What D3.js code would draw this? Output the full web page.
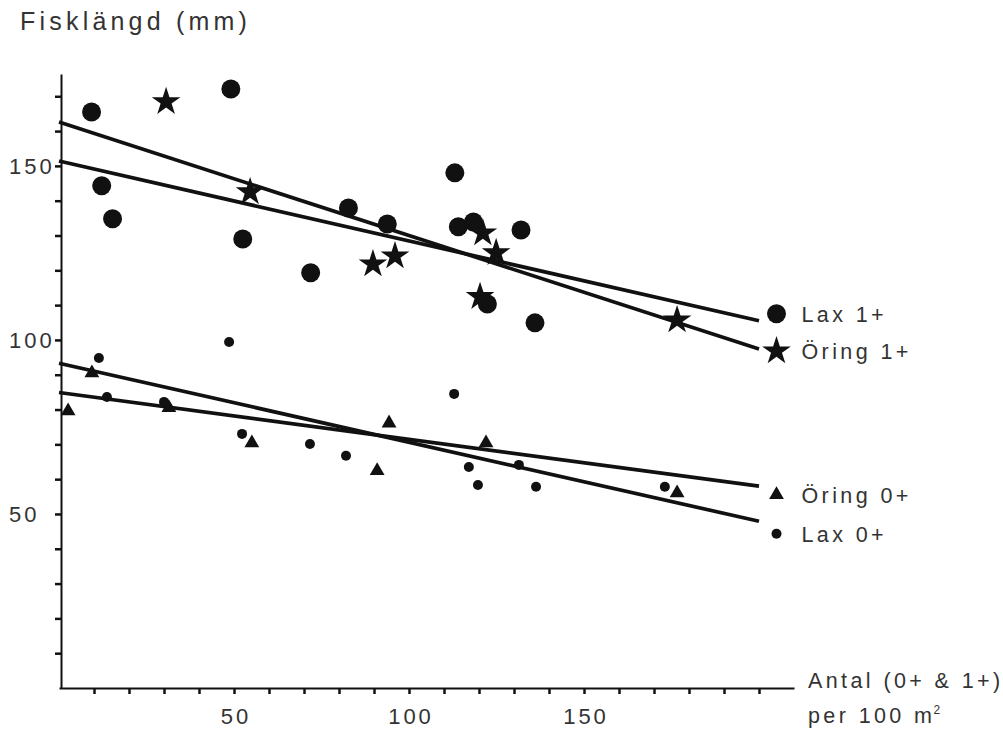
<!DOCTYPE html>
<html>
<head>
<meta charset="utf-8">
<script src="https://cdn.jsdelivr.net/npm/d3@7"></script>
<style>
  body { margin: 0; background: #fff; }
  text { font-family: "Liberation Sans", Arial, sans-serif; fill: #333; }
</style>
</head>
<body>
<div id="chart"></div>
<script>
// chart size
var width = 1003,
    height = 729

// values: x = antal per 100 m2, y = fisklängd (mm)
var lax1X = [9.3, 12.2, 15.3, 49.1, 52.5, 71.9, 82.7, 93.8, 113.1, 114.1, 118.4, 122.4, 132.0, 136.0]
var lax1Y = [165.5, 144.3, 134.8, 172.1, 129.0, 119.3, 137.9, 133.3, 148.0, 132.5, 133.9, 110.3, 131.6, 104.9]

var oring1X = [30.6, 54.6, 89.7, 96.0, 121.1, 124.9, 120.3, 176.6]
var oring1Y = [168.4, 142.5, 121.8, 124.1, 130.7, 125.0, 112.4, 105.7]

var oring0X = [2.6, 9.4, 31.4, 55.1, 90.9, 94.3, 122.0, 176.6]
var oring0Y = [79.6, 90.5, 80.5, 70.4, 62.4, 76.1, 70.4, 56.0]

var lax0X = [11.4, 13.7, 30.0, 48.6, 52.3, 71.7, 82.0, 112.9, 117.1, 119.7, 131.4, 136.3, 173.1]
var lax0Y = [94.8, 83.6, 82.2, 99.4, 73.0, 70.1, 66.7, 84.5, 63.5, 58.3, 64.1, 57.8, 57.8]

// fitted lines, value at x = 0 and at x = 200
var lineNames = ['Lax 1+', 'Öring 1+', 'Öring 0+', 'Lax 0+']
var lineStart = [151.4, 162.6, 84.9, 93.3]
var lineEnd = [105.5, 97.4, 58.0, 47.9]
var lineX = [0, 200]

// ticks
var xTicks = d3.range(10, 201, 10)
var yTicks = d3.range(10, 171, 10)
var xTickLabels = [50, 100, 150]
var yTickLabels = [50, 100, 150]

var legendNames = ['Lax 1+', 'Öring 1+', 'Öring 0+', 'Lax 0+']
var legendY = [107.5, 96.8, 55.5, 44.3]

var x = d3.scaleLinear().domain([0, 210]).range([59, 794])
var y = d3.scaleLinear().domain([0, 176.4]).range([688, 74])

var svg = d3.select("#chart")
            .append("svg")
            .attr("width", width)
            .attr("height", height)

// title
svg.append("text")
   .attr("x", 20)
   .attr("y", 30)
   .attr("font-size", 25)
   .attr("letter-spacing", 4.2)
   .text("Fisklängd (mm)")

// axes
var xAxis = d3.axisBottom(x)
              .tickValues(xTicks)
              .tickSize(6)
              .tickSizeOuter(0)
              .tickFormat("")
var yAxis = d3.axisLeft(y)
              .tickValues(yTicks)
              .tickSize(6)
              .tickSizeOuter(0)
              .tickFormat("")

var gx = svg.append("g")
            .attr("transform", "translate(0," + y(0) + ")")
            .call(xAxis)
var gy = svg.append("g")
            .attr("transform", "translate(" + (x(0) + 2) + ",0)")
            .call(yAxis)

gx.select(".domain").attr("stroke", "#111").attr("stroke-width", 2)
gy.select(".domain").attr("stroke", "#111").attr("stroke-width", 2)
gx.selectAll(".tick line").attr("stroke", "#111").attr("stroke-width", 2.5)
gy.selectAll(".tick line").attr("stroke", "#111").attr("stroke-width", 2.5)

svg.selectAll("text.xlab")
   .data(xTickLabels)
   .enter()
   .append("text")
   .attr("class", "xlab")
   .attr("x", function(d) { return x(d) + 2 })
   .attr("y", 724)
   .attr("text-anchor", "middle")
   .attr("font-size", 22)
   .attr("letter-spacing", 3)
   .text(function(d) { return d })

svg.selectAll("text.ylab")
   .data(yTickLabels)
   .enter()
   .append("text")
   .attr("class", "ylab")
   .attr("x", 9)
   .attr("y", function(d) { return y(d) })
   .attr("dy", "0.36em")
   .attr("font-size", 22)
   .attr("letter-spacing", 3)
   .text(function(d) { return d })

// axis title on the right
var xTitle = svg.append("text")
   .attr("x", 808)
   .attr("y", 688)
   .attr("font-size", 21.5)
   .attr("letter-spacing", 3.4)
xTitle.append("tspan").text("Antal (0+ & 1+)")
var xTitle2 = svg.append("text")
   .attr("x", 808)
   .attr("y", 723)
   .attr("font-size", 21.5)
   .attr("letter-spacing", 3.4)
xTitle2.append("tspan").text("per 100 m")
xTitle2.append("tspan").attr("font-size", 12).attr("dy", -9).attr("dx", -2).text("2")

// fitted lines
var line = d3.line()
             .x(function(d) { return x(d[0]) })
             .y(function(d) { return y(d[1]) })

svg.selectAll("path.fit")
   .data(lineNames)
   .enter()
   .append("path")
   .attr("class", "fit")
   .attr("d", function(d, i) {
       return line([[lineX[0], lineStart[i]], [lineX[1], lineEnd[i]]])
   })
   .attr("fill", "none")
   .attr("stroke", "#111")
   .attr("stroke-width", 3.7)

// marker shapes
function zip(xs, ys) {
    return xs.map(function(v, i) { return [v, ys[i]] })
}

var bigDot = d3.symbol().type(d3.symbolCircle).size(Math.PI * 9.5 * 9.5)
var smallDot = d3.symbol().type(d3.symbolCircle).size(Math.PI * 5 * 5)
var star = d3.symbol().type(d3.symbolStar).size(255)
var tri = d3.symbol().type(d3.symbolTriangle).size(95)

var series = [
    { pts: zip(lax1X, lax1Y), sym: bigDot },
    { pts: zip(oring1X, oring1Y), sym: star },
    { pts: zip(oring0X, oring0Y), sym: tri },
    { pts: zip(lax0X, lax0Y), sym: smallDot }
]

series.forEach(function(s) {
    svg.append("g")
       .selectAll("path")
       .data(s.pts)
       .enter()
       .append("path")
       .attr("transform", function(d) { return "translate(" + x(d[0]) + "," + y(d[1]) + ")" })
       .attr("d", s.sym)
       .attr("fill", "#111")
})

// legend
var legend = svg.selectAll("g.legend")
                .data(legendNames)
                .enter()
                .append("g")
                .attr("class", "legend")
                .attr("transform", function(d, i) { return "translate(" + x(205) + "," + y(legendY[i]) + ")" })

legend.append("path")
      .attr("d", function(d, i) { return series[i].sym() })
      .attr("fill", "#111")

legend.append("text")
      .attr("x", 25)
      .attr("dy", "0.36em")
      .attr("font-size", 21.5)
      .attr("letter-spacing", 3.4)
      .text(function(d) { return d })
</script>
</body>
</html>
